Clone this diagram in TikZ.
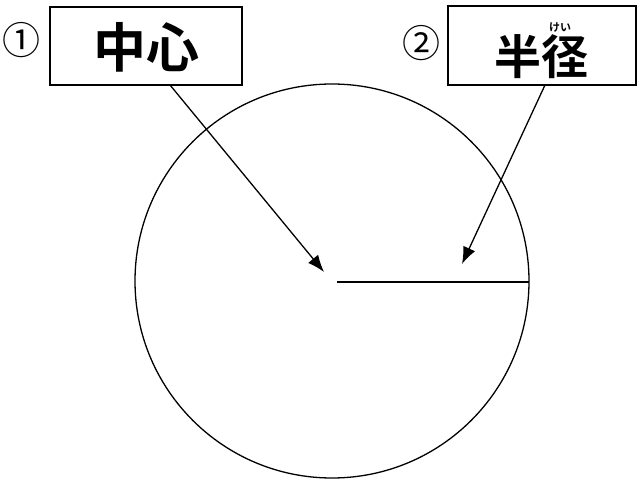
\documentclass[tikz,border=0pt]{standalone}
\usepackage{fontspec}
\newfontfamily\jp{Noto Sans CJK JP}[BoldFont={* Bold}]
\usetikzlibrary{arrows.meta}
\begin{document}
\begin{tikzpicture}[x=1pt,y=-1pt,
  lbl/.style={draw=black,line width=1.8pt,inner sep=0pt},
  arr/.style={line width=1.3pt,-{Latex[length=17pt,width=13pt]}},
  big/.style={font=\jp\bfseries\fontsize{53}{53}\selectfont},
  num/.style={font=\jp\fontsize{38}{38}\selectfont}]
\useasboundingbox (0,0) rectangle (639,481);
\node[lbl,minimum width=192pt,minimum height=78pt] (b1) at (146,46) {};
\node[lbl,minimum width=188pt,minimum height=79pt] (b2) at (542,45.5) {};
\node[big] (t1) at (146,47) {中心};
\node[big,font=\jp\bfseries\fontsize{47}{47}\selectfont] (t2) at (541,57) {半径};
\node[font=\jp\bfseries\fontsize{11}{11}\selectfont] (f2) at (560,28) {けい};
\node[num] (n1) at (21,40) {①};
\node[num] (n2) at (421,43) {②};
\coordinate (c) at (332,281);
\draw[line width=1.3pt] (c) circle (197);
\coordinate (r0) at (337,282);
\coordinate (r1) at (529,282);
\draw[line width=2pt] (r0) -- (r1);
\coordinate (a1) at (170,85);
\coordinate (h1) at (324,272);
\coordinate (a2) at (545,85);
\coordinate (h2) at (462,264);
\draw[arr] (a1) -- (h1);
\draw[arr] (a2) -- (h2);
\end{tikzpicture}
\end{document}
